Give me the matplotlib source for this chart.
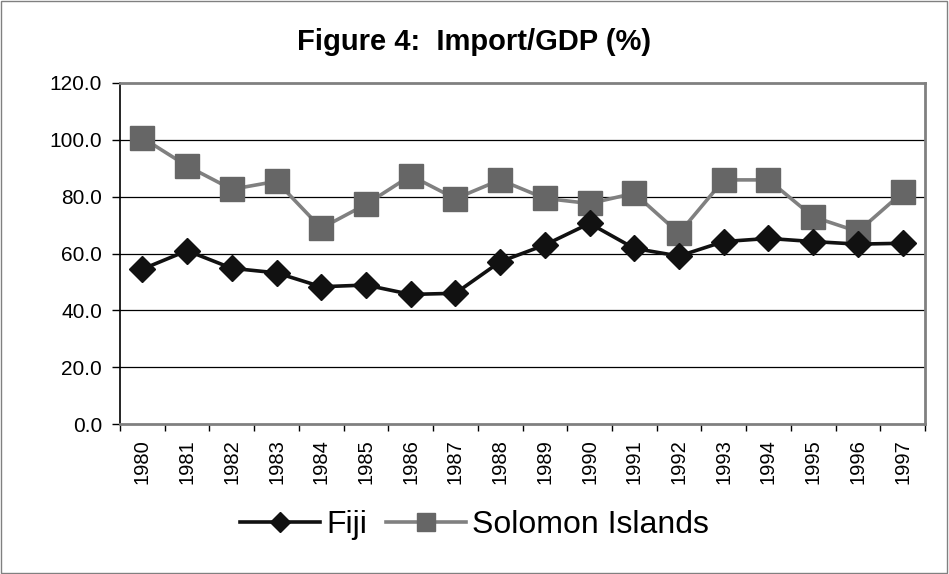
import numpy as np
import matplotlib.pyplot as plt
from matplotlib.patches import Rectangle

# Data
years = [str(y) for y in range(1980, 1998)]
fiji = [54.5, 61.0, 54.8, 53.2, 48.3, 48.9, 45.6, 46.0, 57.1, 63.0,
        70.6, 61.8, 59.1, 64.2, 65.3, 64.2, 63.3, 63.6]
solomon = [100.7, 90.8, 82.6, 85.4, 68.9, 77.3, 87.4, 79.3, 85.9, 79.4,
           77.6, 81.2, 67.1, 85.9, 85.9, 72.9, 67.7, 81.5]
yticks = [0, 20, 40, 60, 80, 100, 120]

plt.rcParams['font.family'] = ['Liberation Sans', 'DejaVu Sans']

fig = plt.figure(figsize=(9.49, 5.74), dpi=100)
ax = fig.add_axes([120/949, 1 - 424/574, 805/949, 341/574])

x = np.arange(len(years))
ax.plot(x, solomon, color='#808080', lw=2.6, marker='s', markersize=17,
        markerfacecolor='#666666', markeredgecolor='#666666', label='Solomon Islands', zorder=3)
ax.plot(x, fiji, color='#111111', lw=2.6, marker='D', markersize=13,
        markerfacecolor='#111111', markeredgecolor='#111111', label='Fiji', zorder=4)

ax.set_xlim(-0.5, len(years) - 0.5)
ax.set_ylim(0, 120)
ax.set_yticks(yticks)
ax.set_yticklabels([f"{v:.1f}" for v in yticks], fontsize=15)
for v in yticks[1:-1]:
    ax.axhline(v, color='black', lw=0.9, zorder=1)

ax.set_xticks(x)
ax.set_xticklabels(years, rotation=90, fontsize=14.5)
ax.set_xticks(np.arange(len(years) + 1) - 0.5, minor=True)
ax.tick_params(axis='x', which='major', length=0, pad=11)
ax.tick_params(axis='x', which='minor', length=5, width=1, color='black', direction='out')
ax.tick_params(axis='y', length=6, width=1, direction='out', pad=7)

for s in ['top', 'right', 'bottom']:
    ax.spines[s].set_color('#808080')
    ax.spines[s].set_linewidth(2)
ax.spines['left'].set_color('black')
ax.spines['left'].set_linewidth(1.2)

fig.text(0.5, 1 - 42/574, "Figure 4:  Import/GDP (%)", ha='center', va='center',
         fontsize=21, fontweight='bold')

h, l = ax.get_legend_handles_labels()
fig.legend([h[1], h[0]], [l[1], l[0]], loc='center', bbox_to_anchor=(0.5, 1 - 525/574),
           ncol=2, frameon=False, fontsize=23, handlelength=2.5, columnspacing=0.6,
           handletextpad=0.2, markerscale=0.8)

fig.patches.append(Rectangle((0.001, 0.002), 0.997, 0.996, transform=fig.transFigure,
                             fill=False, edgecolor='#808080', lw=1))

fig.savefig('out.png', dpi=100)
